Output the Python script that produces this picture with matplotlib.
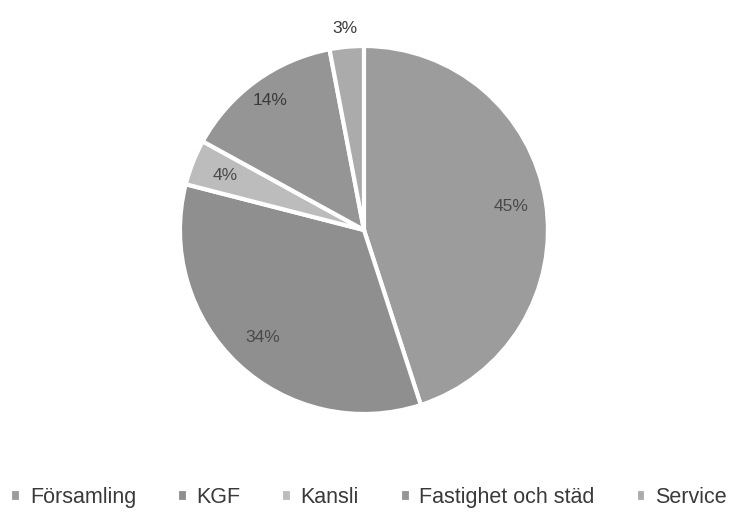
import matplotlib
matplotlib.use("Agg")
import matplotlib.pyplot as plt
import numpy as np

categories = ["Församling", "KGF", "Kansli", "Fastighet och städ", "Service"]
values = [45, 34, 4, 14, 3]
labels = ["45%", "34%", "4%", "14%", "3%"]
colors = ["#9c9c9c", "#8f8f8f", "#bcbcbc", "#959595", "#ababab"]

plt.rcParams['font.family'] = ['Liberation Sans', 'DejaVu Sans']

fig = plt.figure(figsize=(7.37, 5.12), dpi=100)
fig.patch.set_facecolor("white")
ax = fig.add_axes([0.2442, 0.1914, 0.4993, 0.71875])
wedges, _ = ax.pie(values, colors=colors, startangle=90, counterclock=False,
                   radius=1.0, wedgeprops=dict(edgecolor="white", linewidth=3))
ax.set_xlim(-1, 1)
ax.set_ylim(-1, 1)
ax.set_aspect("equal")
ax.axis("off")

dists = [0.81, 0.8, 0.81, 0.87, 1.1]
label_colors = ["#4a4a4a", "#4a4a4a", "#4a4a4a", "#3a3a3a", "#3a3a3a"]
for w, lab, d, c in zip(wedges, labels, dists, label_colors):
    ang = np.deg2rad((w.theta1 + w.theta2) / 2)
    ax.text(d * np.cos(ang), d * np.sin(ang), lab, ha="center", va="center",
            fontsize=12.5, color=c)

fig.legend(wedges, categories, loc="center", bbox_to_anchor=(0.5, 0.028), ncol=5,
           frameon=False, fontsize=15.5, handlelength=0.5, handleheight=0.5,
           handletextpad=0.4, columnspacing=1.9, labelcolor="#3a3a3a")

fig.savefig("out.png", dpi=100, facecolor="white")
